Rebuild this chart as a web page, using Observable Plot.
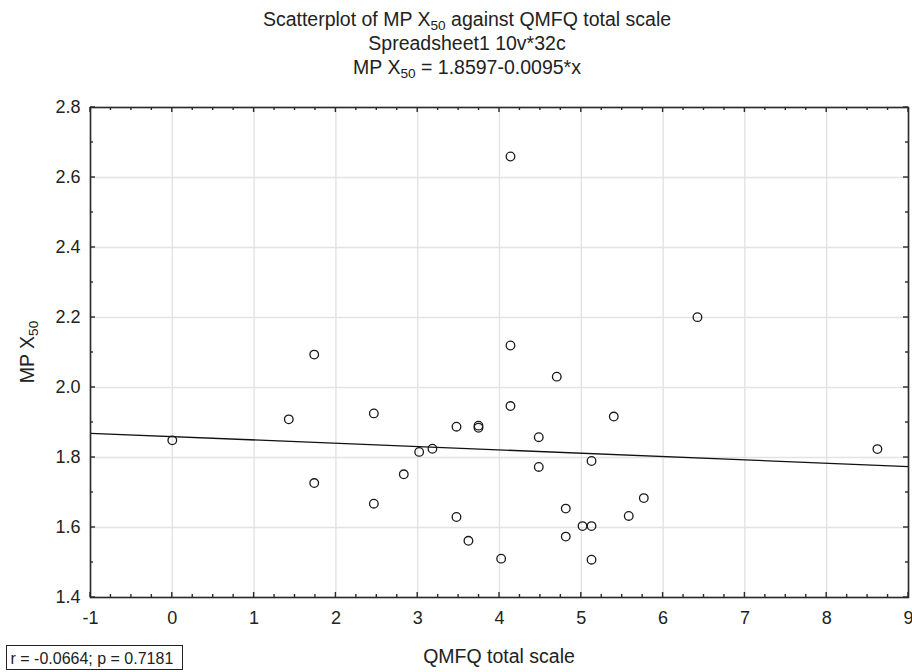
<!DOCTYPE html>
<html>
<head>
<meta charset="utf-8">
<script src="https://cdn.jsdelivr.net/npm/d3@7"></script>
<script src="https://cdn.jsdelivr.net/npm/@observablehq/plot@0.6"></script>
<style>
  html, body { margin: 0; padding: 0; background: #fff; }
  #chart svg { display: block; }
</style>
</head>
<body>
<div id="chart"></div>
<script>
// QMFQ total scale (x) and MP X50 (y), 32 cases
const qmfq = [0, 1.424, 1.735, 1.735, 2.464, 2.464, 2.83, 3.018, 3.18, 3.474, 3.474, 3.62,
  3.743, 3.743, 4.02, 4.134, 4.134, 4.134, 4.48, 4.48, 4.70, 4.81, 4.81, 5.015,
  5.125, 5.125, 5.125, 5.397, 5.58, 5.764, 6.42, 8.62];
const mpx50 = [1.849, 1.909, 2.094, 1.727, 1.926, 1.668, 1.752, 1.816, 1.825, 1.888, 1.630, 1.562,
  1.891, 1.885, 1.511, 2.660, 2.120, 1.947, 1.858, 1.773, 2.031, 1.654, 1.574, 1.604,
  1.604, 1.790, 1.508, 1.917, 1.633, 1.684, 2.201, 1.824];

// regression as stated in the chart: MP X50 = 1.8597 - 0.0095*x
const intercept = 1.8597;
const slope = -0.0095;
const fitX = [-1, 9];

const xTicks = [-1, 0, 1, 2, 3, 4, 5, 6, 7, 8, 9];
const yTicks = [1.4, 1.6, 1.8, 2.0, 2.2, 2.4, 2.6, 2.8];
const xMinor = d3.range(-1, 9.001, 0.25);
const yMinor = d3.range(1.4, 2.801, 0.1);

const points = qmfq.map((x, i) => ({x, y: mpx50[i]}));
const fit = fitX.map(x => ({x, y: intercept + slope * x}));

const font = "'Liberation Sans', Arial, sans-serif";
const ink = "#222";

const plot = Plot.plot({
  width: 912,
  height: 672,
  marginLeft: 90,
  marginRight: 4,
  marginTop: 107,
  marginBottom: 75,
  style: {fontFamily: font, fontSize: "16px", color: ink, background: "#fff"},
  x: {domain: [-1, 9]},
  y: {domain: [1.4, 2.8]},
  marks: [
    Plot.gridX(xTicks, {stroke: "#e3e3e3", strokeOpacity: 1, strokeWidth: 1.4}),
    Plot.gridY(yTicks, {stroke: "#e3e3e3", strokeOpacity: 1, strokeWidth: 1.4}),
    Plot.axisX(xTicks, {tickSize: 0, tickPadding: 14, label: null, fontSize: 18, fill: ink,
      tickFormat: d => d < 0 ? "-" + Math.abs(d) : String(d)}),
    Plot.axisY(yTicks, {tickSize: 0, tickPadding: 10, label: null, fontSize: 18, fill: ink,
      tickFormat: d3.format(".1f")}),
    Plot.line(fit, {x: "x", y: "y", stroke: "#111", strokeWidth: 1.3}),
    Plot.dot(points, {x: "x", y: "y", r: 4.3, stroke: "#1a1a1a", strokeWidth: 1.3, fill: "none"}),
    Plot.frame({stroke: "#2a2a2a", strokeWidth: 1.6})
  ]
});

const svg = d3.select(plot);
const sx = plot.scale("x"), sy = plot.scale("y");
const x0 = sx.range[0], x1 = sx.range[1];
const y0 = sy.range[0], y1 = sy.range[1]; // y0 bottom, y1 top

// inward ticks on all four sides
const tg = svg.append("g").attr("stroke", "#2a2a2a").attr("stroke-width", 1.4);
const isMajorX = v => Math.abs(v - Math.round(v)) < 1e-6;
xMinor.forEach(v => {
  const px = sx.apply(v);
  const len = isMajorX(v) ? 5 : 3;
  tg.append("line").attr("x1", px).attr("x2", px).attr("y1", y0).attr("y2", y0 - len);
  tg.append("line").attr("x1", px).attr("x2", px).attr("y1", y1).attr("y2", y1 + len);
});
const isMajorY = v => Math.abs(v * 5 - Math.round(v * 5)) < 1e-6;
yMinor.forEach(v => {
  const py = sy.apply(v);
  const len = isMajorY(v) ? 5 : 3;
  tg.append("line").attr("y1", py).attr("y2", py).attr("x1", x0).attr("x2", x0 + len);
  tg.append("line").attr("y1", py).attr("y2", py).attr("x1", x1).attr("x2", x1 - len);
});

// texts with subscripts
function subText(g, x, y, parts, size, anchor) {
  const t = g.append("text").attr("x", x).attr("y", y).attr("font-size", size)
    .attr("text-anchor", anchor || "middle");
  parts.forEach(p => {
    if (p.sub) {
      t.append("tspan").attr("dy", size * 0.22).attr("font-size", size * 0.7).text(p.sub);
    } else if (p.up) {
      t.append("tspan").attr("dy", -size * 0.22).text(p.t);
    } else {
      t.append("tspan").text(p.t);
    }
  });
  return t;
}
const tx = svg.append("g").attr("font-family", font).attr("fill", ink);
subText(tx, 467, 26, [{t: "Scatterplot of MP X"}, {sub: "50"}, {up: true, t: " against QMFQ total scale"}], 19.5);
subText(tx, 467, 50, [{t: "Spreadsheet1 10v*32c"}], 19.5);
subText(tx, 467, 74, [{t: "MP X"}, {sub: "50"}, {up: true, t: " = 1.8597-0.0095*x"}], 19.5);
tx.append("text").attr("x", (x0 + x1) / 2).attr("y", 663).attr("font-size", 19.5)
  .attr("text-anchor", "middle").text("QMFQ total scale");

const yl = svg.append("g").attr("transform", `translate(34,${(y0 + y1) / 2}) rotate(-90)`)
  .attr("font-family", font).attr("fill", ink);
subText(yl, 0, 0, [{t: "MP X"}, {sub: "50"}], 19.5);

// r / p box
svg.append("rect").attr("x", 6.5).attr("y", 645.5).attr("width", 176).attr("height", 24)
  .attr("fill", "#fff").attr("stroke", ink).attr("stroke-width", 1);
svg.append("text").attr("x", 10.5).attr("y", 663.5).attr("font-family", font).attr("font-size", 16)
  .attr("text-anchor", "start").attr("fill", ink).text("r = -0.0664; p = 0.7181");

document.getElementById("chart").appendChild(plot);
</script>
</body>
</html>
